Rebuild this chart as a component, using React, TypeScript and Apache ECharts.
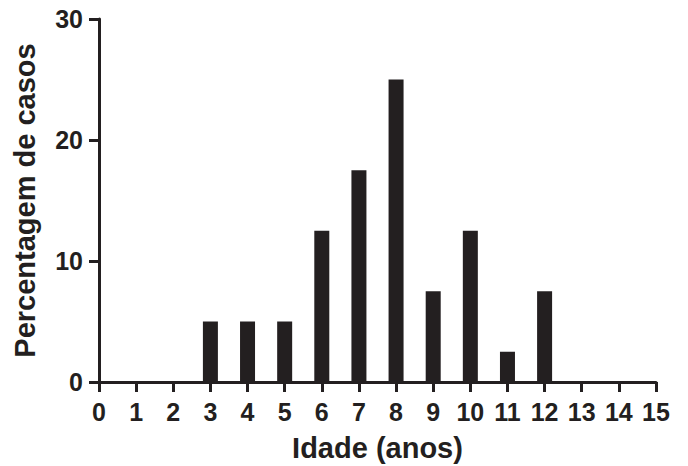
import React, { useEffect, useRef } from "react";
import * as echarts from "echarts";

const ages = [3, 4, 5, 6, 7, 8, 9, 10, 11, 12];
const percentages = [5, 5, 5, 12.5, 17.5, 25, 7.5, 12.5, 2.5, 7.5];
const xTitle = "Idade (anos)";
const yTitle = "Percentagem de casos";

export default function App() {
  const ref = useRef<HTMLDivElement>(null);
  useEffect(() => {
    if (!ref.current) return;
    const chart = echarts.init(ref.current, undefined, { renderer: "svg" });
    const font = "'Liberation Sans', Arial, sans-serif";
    const axisLine = { show: true, lineStyle: { color: "#231f20", width: 3 } };
    const axisTick = { show: true, inside: false, length: 10, lineStyle: { color: "#231f20", width: 3 } };
    chart.setOption({
      animation: false,
      backgroundColor: "#ffffff",
      grid: { left: 99, right: 32, top: 19, bottom: 84, containLabel: false, outerBoundsMode: "none" },
      xAxis: {
        type: "value",
        min: 0,
        max: 15,
        interval: 1,
        splitLine: { show: false },
        axisLine,
        axisTick,
        axisLabel: { color: "#231f20", fontSize: 25, fontWeight: "bold", fontFamily: font, margin: 17 },
        name: xTitle,
        nameLocation: "middle",
        nameGap: 51,
        nameTextStyle: { color: "#231f20", fontSize: 29, fontWeight: "bold", fontFamily: font },
      },
      yAxis: {
        type: "value",
        min: 0,
        max: 30,
        interval: 10,
        splitLine: { show: false },
        axisLine,
        axisTick,
        axisLabel: { color: "#231f20", fontSize: 25, fontWeight: "bold", fontFamily: font, margin: 16 },
        name: yTitle,
        nameLocation: "middle",
        nameGap: 60,
        nameTextStyle: { color: "#231f20", fontSize: 29, fontWeight: "bold", fontFamily: font },
      },
      series: [
        {
          type: "bar",
          data: ages.map((a, i) => [a, percentages[i]]),
          barWidth: 15,
          itemStyle: { color: "#231f20" },
        },
      ],
    });
    return () => chart.dispose();
  }, []);
  return (
    <div
      ref={ref}
      style={{ position: "fixed", left: 0, top: 0, width: 688, height: 466, background: "#fff" }}
    />
  );
}
